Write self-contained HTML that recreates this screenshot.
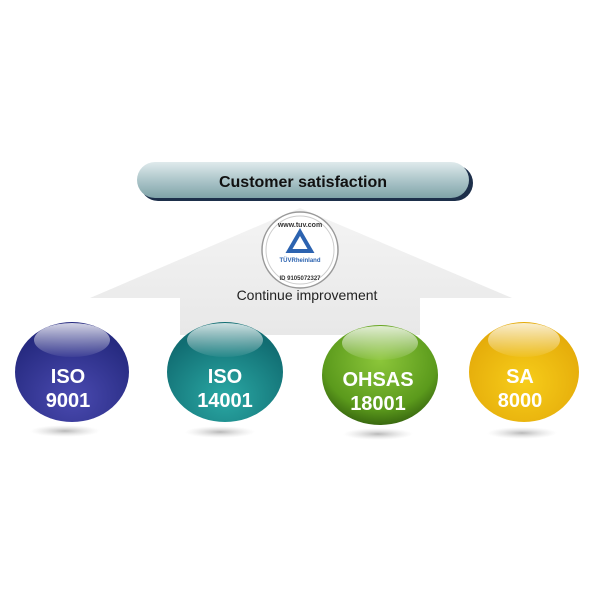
<!DOCTYPE html>
<html><head><style>
body{margin:0;width:600px;height:600px;background:#fff;overflow:hidden}
svg{display:block}
</style></head><body>
<svg width="600" height="600" viewBox="0 0 600 600" xmlns="http://www.w3.org/2000/svg">
<defs>
<linearGradient id="arr" x1="0" y1="0" x2="0" y2="1">
<stop offset="0" stop-color="#f4f4f4"/><stop offset="1" stop-color="#e8e8e8"/></linearGradient>
<linearGradient id="ban" x1="0" y1="0" x2="0" y2="1">
<stop offset="0" stop-color="#dfeaec"/><stop offset="0.5" stop-color="#adc6ca"/><stop offset="1" stop-color="#7fa3a8"/></linearGradient>
<radialGradient id="g1" cx="0.5" cy="0.75" r="0.65"><stop offset="0" stop-color="#4a4ab0"/><stop offset="1" stop-color="#262a80"/></radialGradient>
<radialGradient id="g2" cx="0.5" cy="0.75" r="0.65"><stop offset="0" stop-color="#2aa8a4"/><stop offset="1" stop-color="#116d72"/></radialGradient>
<radialGradient id="g3" cx="0.5" cy="0.35" r="0.7"><stop offset="0" stop-color="#8cc63a"/><stop offset="0.7" stop-color="#5b9a1c"/><stop offset="1" stop-color="#2f5a0c"/></radialGradient>
<radialGradient id="g4" cx="0.5" cy="0.6" r="0.65"><stop offset="0" stop-color="#f7cd1a"/><stop offset="1" stop-color="#e2a708"/></radialGradient>
<linearGradient id="hl" x1="0" y1="0" x2="0" y2="1"><stop offset="0" stop-color="#fff" stop-opacity="0.8"/><stop offset="1" stop-color="#fff" stop-opacity="0.05"/></linearGradient>
<radialGradient id="sh"><stop offset="0" stop-color="#999" stop-opacity="0.7"/><stop offset="1" stop-color="#ccc" stop-opacity="0"/></radialGradient>
</defs>
<polygon points="300,208 512,298 420,298 420,335 180,335 180,298 90,298" fill="url(#arr)"/>
<rect x="140" y="165" width="333" height="36" rx="18" fill="#1d2f4a"/>
<rect x="137" y="162" width="332" height="36" rx="18" fill="url(#ban)"/>
<text x="303" y="187" font-family="Liberation Sans,sans-serif" font-size="16" font-weight="bold" text-anchor="middle" fill="#111">Customer satisfaction</text>
<circle cx="300" cy="250" r="38" fill="#fff" stroke="#999" stroke-width="1.5"/>
<circle cx="300" cy="250" r="34" fill="none" stroke="#ccc" stroke-width="1"/>
<polygon points="300,232 311,251 289,251" fill="none" stroke="#2c63b0" stroke-width="4"/>
<text x="300" y="262" font-family="Liberation Sans,sans-serif" font-size="6" font-weight="bold" text-anchor="middle" fill="#2c63b0">TÜVRheinland</text>
<text x="300" y="227" font-family="Liberation Sans,sans-serif" font-size="7" font-weight="bold" text-anchor="middle" fill="#333">www.tuv.com</text>
<text x="300" y="280" font-family="Liberation Sans,sans-serif" font-size="6" font-weight="bold" text-anchor="middle" fill="#333">ID 9105072327</text>
<text x="307" y="300" font-family="Liberation Sans,sans-serif" font-size="14" text-anchor="middle" fill="#222">Continue improvement</text>
<g font-family="Liberation Sans,sans-serif" font-size="20" font-weight="bold" text-anchor="middle" fill="#fff">
<ellipse cx="65" cy="431" rx="35" ry="6" fill="url(#sh)"/>
<ellipse cx="72" cy="372" rx="57" ry="50" fill="url(#g1)"/>
<ellipse cx="72" cy="340" rx="38" ry="17" fill="url(#hl)"/>
<text x="68" y="383">ISO</text><text x="68" y="407">9001</text>
<ellipse cx="220" cy="432" rx="35" ry="6" fill="url(#sh)"/>
<ellipse cx="225" cy="372" rx="58" ry="50" fill="url(#g2)"/>
<ellipse cx="225" cy="340" rx="38" ry="17" fill="url(#hl)"/>
<text x="225" y="383">ISO</text><text x="225" y="407">14001</text>
<ellipse cx="378" cy="434" rx="35" ry="6" fill="url(#sh)"/>
<ellipse cx="380" cy="375" rx="58" ry="50" fill="url(#g3)"/>
<ellipse cx="380" cy="343" rx="38" ry="17" fill="url(#hl)"/>
<text x="378" y="386">OHSAS</text><text x="378" y="410">18001</text>
<ellipse cx="522" cy="433" rx="35" ry="6" fill="url(#sh)"/>
<ellipse cx="524" cy="372" rx="55" ry="50" fill="url(#g4)"/>
<ellipse cx="524" cy="340" rx="36" ry="17" fill="url(#hl)"/>
<text x="520" y="383">SA</text><text x="520" y="407">8000</text>
</g>
</svg>
</body></html>
